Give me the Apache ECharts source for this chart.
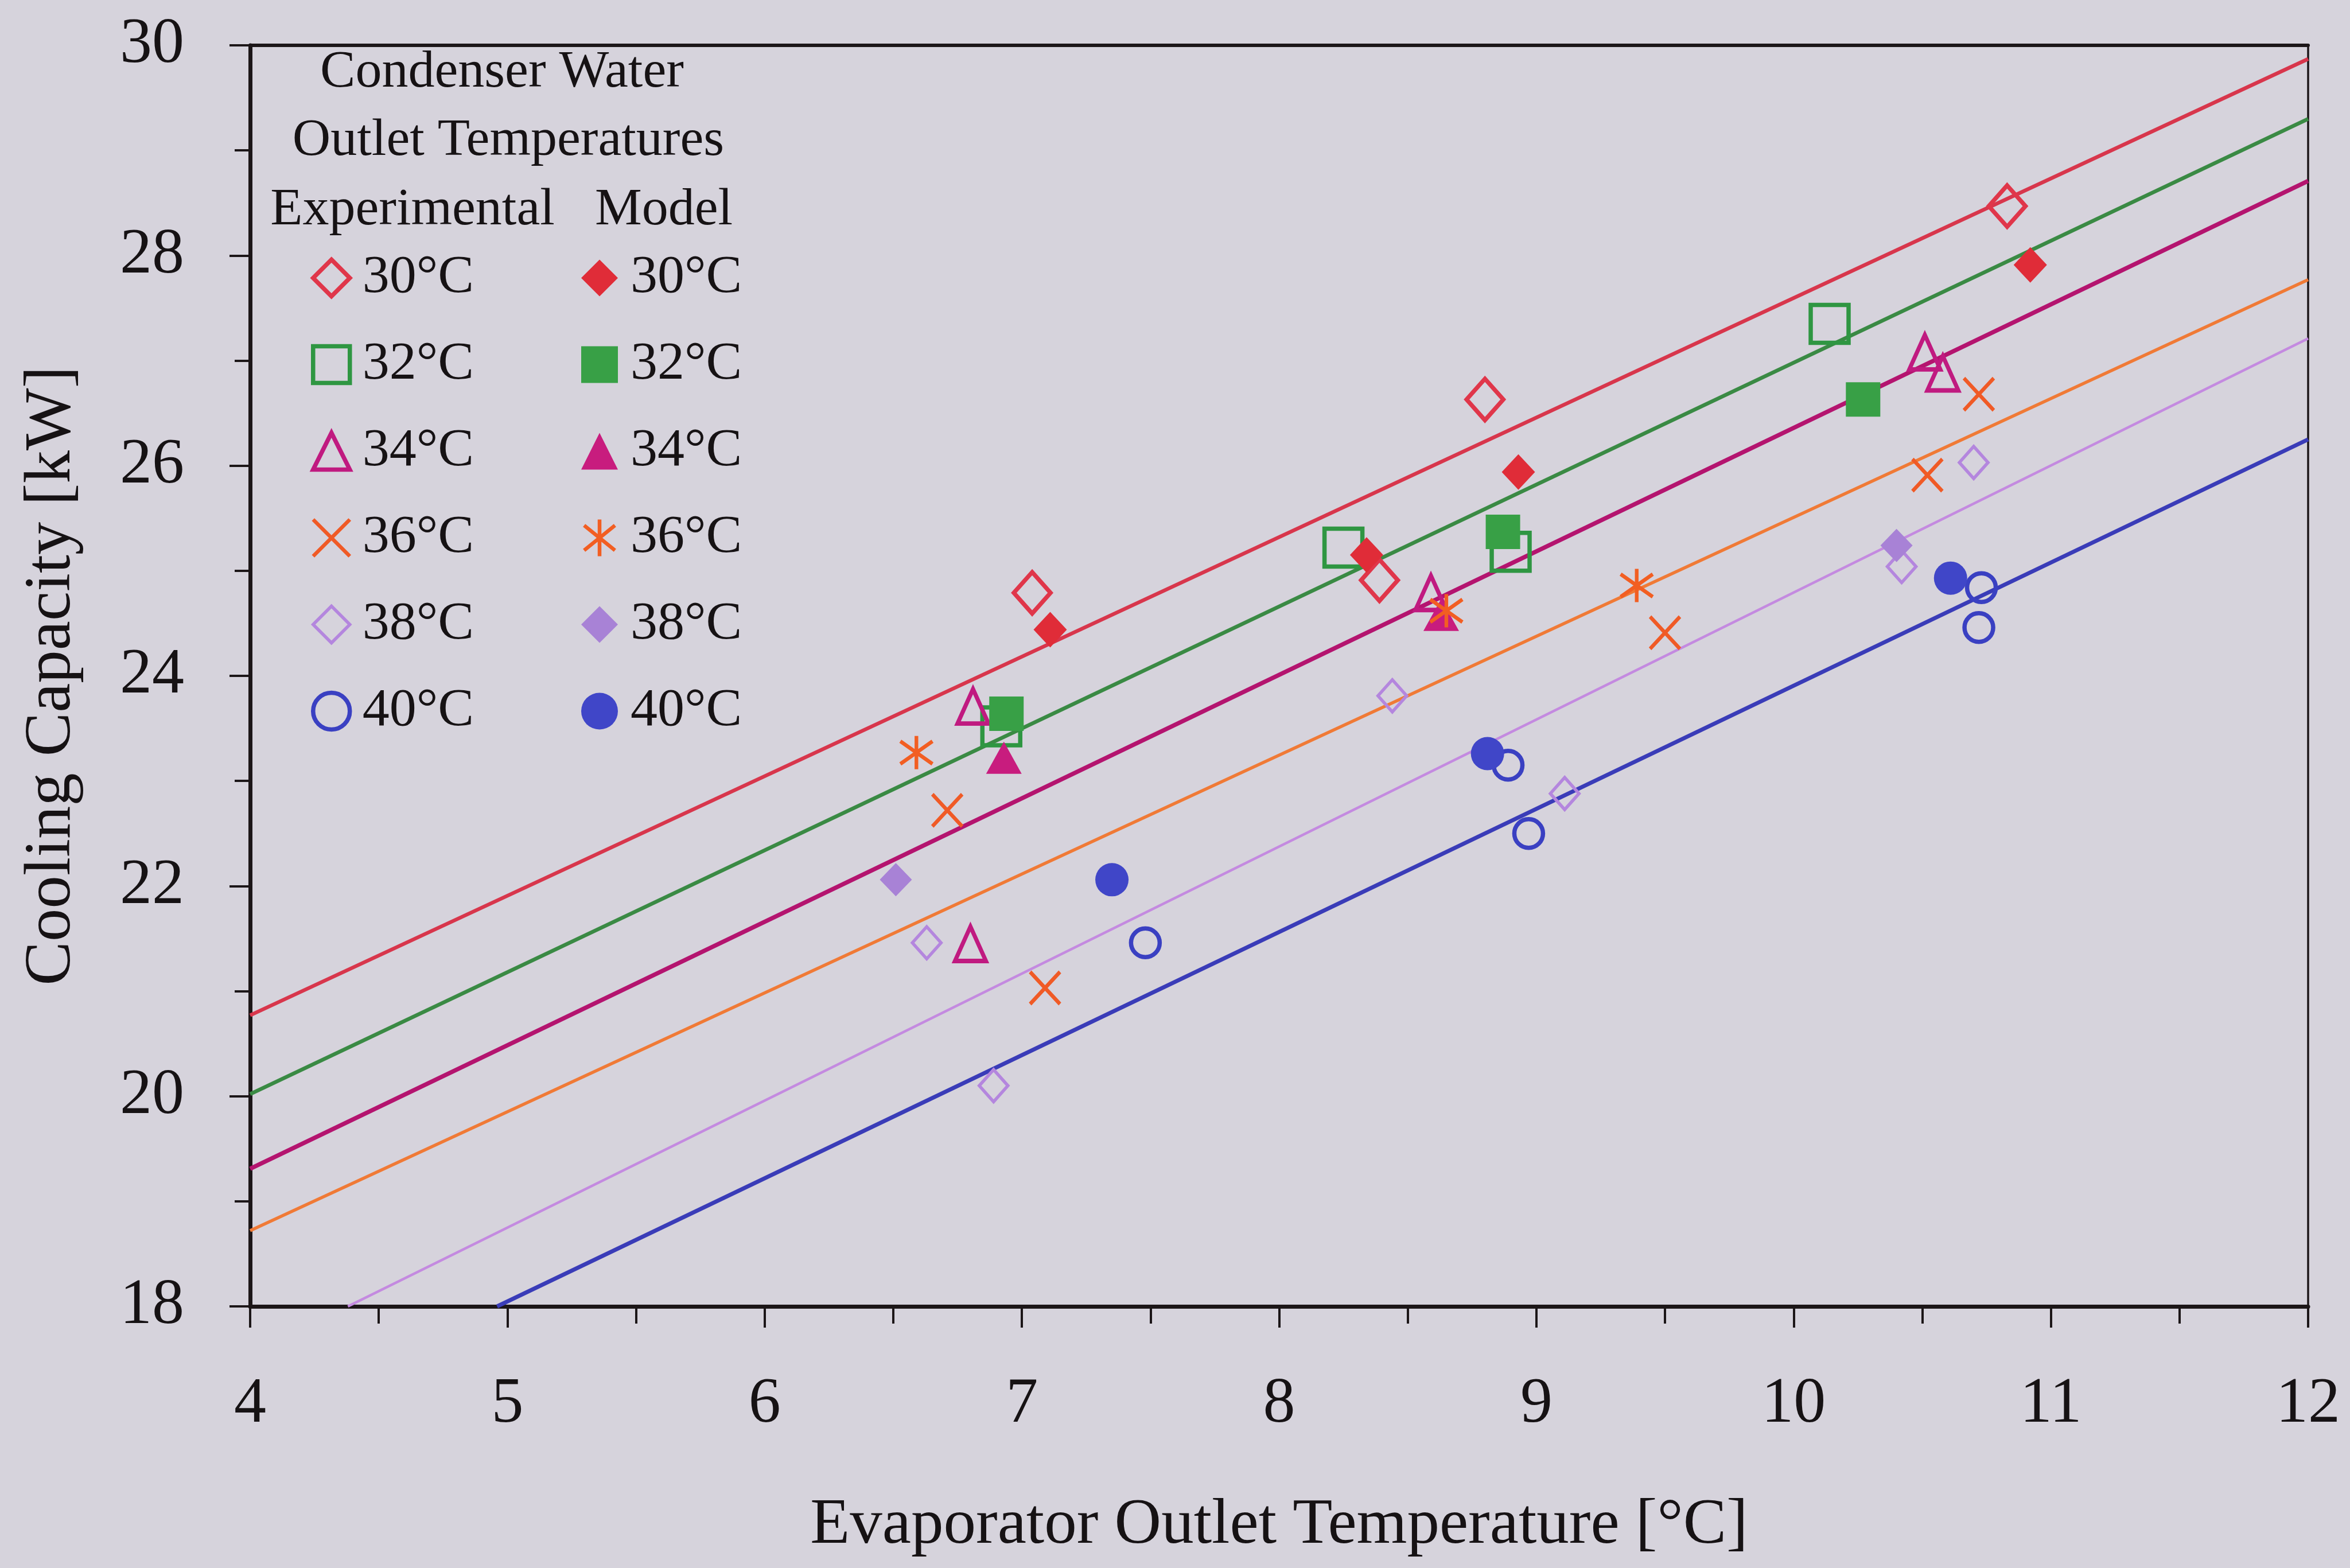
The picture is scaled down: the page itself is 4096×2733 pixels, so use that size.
<!DOCTYPE html>
<html>
<head>
<meta charset="utf-8">
<title>Cooling Capacity vs Evaporator Outlet Temperature</title>
<script src="https://cdn.jsdelivr.net/npm/echarts@6.0.0/dist/echarts.min.js"></script>
<style>
  html, body { margin: 0; padding: 0; background: #d6d3dc; }
  #chart { width: 4096px; height: 2733px; }
</style>
</head>
<body>
<div id="chart"></div>
<script>
// Condenser water outlet temperatures (one series per temperature)
const temps = ['30°C', '32°C', '34°C', '36°C', '38°C', '40°C'];

// Experimental measurements [evaporator outlet °C, cooling capacity kW]
const exp30 = [[7.04, 24.79], [8.39, 24.91], [8.80, 26.63], [10.83, 28.47]];
const exp32 = [[6.92, 23.52], [8.25, 25.22], [8.90, 25.18], [10.14, 27.35]];
const exp34 = [[6.81, 23.71], [6.80, 21.45], [8.59, 24.79], [10.51, 27.08], [10.58, 26.88]];
const exp36 = [[6.71, 22.72], [7.09, 21.03], [9.50, 24.41], [10.52, 25.91], [10.72, 26.68]];
const exp38 = [[6.63, 21.46], [6.89, 20.10], [8.44, 23.81], [9.11, 22.88], [10.42, 25.04], [10.70, 26.03]];
const exp40 = [[7.48, 21.46], [8.89, 23.15], [8.97, 22.50], [10.73, 24.84], [10.72, 24.46]];

// Model predictions
const mod30 = [[7.11, 24.44], [8.34, 25.15], [8.93, 25.94], [10.92, 27.91]];
const mod32 = [[6.94, 23.64], [8.87, 25.37], [10.27, 26.63]];
const mod34 = [[6.93, 23.22], [8.63, 24.58]];
const mod36 = [[6.59, 23.27], [8.65, 24.62], [9.39, 24.86]];
const mod38 = [[6.51, 22.06], [10.40, 25.24]];
const mod40 = [[7.35, 22.06], [8.81, 23.26], [10.61, 24.93]];

// Linear fits, given by their end points
const fit30 = [[4, 20.77], [12, 29.87]];
const fit32 = [[4, 20.02], [12, 29.30]];
const fit34 = [[4, 19.31], [12, 28.71]];
const fit36 = [[4, 18.72], [12, 27.77]];
const fit38 = [[4.38, 18], [12, 27.21]];
const fit40 = [[4.96, 18], [12, 26.25]];

const expData = [exp30, exp32, exp34, exp36, exp38, exp40];
const modData = [mod30, mod32, mod34, mod36, mod38, mod40];
const fitData = [fit30, fit32, fit34, fit36, fit38, fit40];

// ---- styling ----
const FONT = '"Liberation Serif", "DejaVu Serif", serif';
const INK = '#161214';
const AXIS = '#1c1618';
const X_PATH = 'path://M0,0L10,10M10,0L0,10';
const STAR_PATH = 'path://M5,0L5,10M0.8,1.6L9.2,8.4M9.2,1.6L0.8,8.4';

const lineStyles = [
  { color: '#d8364c', width: 6.5 },
  { color: '#3a8a44', width: 6.5 },
  { color: '#b4146f', width: 7.5 },
  { color: '#f07a36', width: 5.5 },
  { color: '#c48ae0', width: 4.5 },
  { color: '#3a3cb8', width: 7 }
];
const expStyles = [
  { symbol: 'diamond', size: [64, 72], color: '#e0364a', border: 7.5 },
  { symbol: 'rect', size: [66, 66], color: '#2f9642', border: 7.5 },
  { symbol: 'triangle', size: [54, 60], color: '#c01a80', border: 7.5 },
  { symbol: X_PATH, size: [52, 56], color: '#f05a26', border: 6.5 },
  { symbol: 'diamond', size: [50, 56], color: '#b486de', border: 5.5 },
  { symbol: 'circle', size: [50, 50], color: '#3a40c2', border: 7.5 }
];
const modStyles = [
  { symbol: 'diamond', size: [58, 62], color: '#e02c38' },
  { symbol: 'rect', size: [60, 60], color: '#38a046' },
  { symbol: 'triangle', size: [62, 56], color: '#c81c7e' },
  { symbol: STAR_PATH, size: [56, 58], color: '#f25e22', stroke: true },
  { symbol: 'diamond', size: [56, 58], color: '#a882d6' },
  { symbol: 'circle', size: [58, 58], color: '#4046c8' }
];

const expName = t => 'Experimental ' + t;
const modName = t => 'Model ' + t;

const series = [];
fitData.forEach((d, i) => {
  series.push({
    type: 'line', name: 'Fit ' + temps[i], data: d,
    symbol: 'none', showSymbol: false, silent: true, clip: true, z: 1,
    lineStyle: { color: lineStyles[i].color, width: lineStyles[i].width }
  });
});
expData.forEach((d, i) => {
  const s = expStyles[i];
  series.push({
    type: 'scatter', name: expName(temps[i]), data: d, z: 3,
    symbol: s.symbol, symbolSize: s.size,
    itemStyle: { color: 'transparent', borderColor: s.color, borderWidth: s.border, opacity: 1 }
  });
});
modData.forEach((d, i) => {
  const s = modStyles[i];
  series.push({
    type: 'scatter', name: modName(temps[i]), data: d, z: 4,
    symbol: s.symbol, symbolSize: s.size,
    itemStyle: s.stroke
      ? { color: 'transparent', borderColor: s.color, borderWidth: 6.5, opacity: 1 }
      : { color: s.color, borderColor: s.color, borderWidth: 0, opacity: 1 }
  });
});

const legendText = { fontFamily: FONT, fontSize: 94, lineHeight: 95, color: INK, padding: [0, 0, 0, 17] };
const legendBase = {
  orient: 'vertical', top: 437, padding: 0,
  itemWidth: 64, itemHeight: 64, itemGap: 56,
  selectedMode: false, textStyle: legendText,
  itemStyle: { borderWidth: 'inherit' }
};

const headerStyle = (text, x, y) => ({
  type: 'text', x: x, y: y, silent: true,
  style: { text: text, fontFamily: FONT, fontSize: 92, fill: INK, align: 'center', verticalAlign: 'middle' }
});

const option = {
  backgroundColor: '#d6d3dc',
  animation: false,
  grid: { left: 436, right: 73, top: 79, bottom: 456, containLabel: false, outerBoundsMode: 'none' },
  xAxis: [{
    type: 'value', min: 4, max: 12, interval: 1,
    name: 'Evaporator Outlet Temperature [°C]', nameLocation: 'middle', nameGap: 326, nameMoveOverlap: false,
    nameTextStyle: { fontFamily: FONT, fontSize: 113, color: INK },
    axisLine: { show: true, onZero: false, lineStyle: { color: AXIS, width: 7 } },
    axisTick: { show: true, inside: false, length: 37, lineStyle: { color: AXIS, width: 4 } },
    minorTick: { show: true, splitNumber: 2, length: 30, lineStyle: { color: AXIS, width: 4 } },
    axisLabel: { margin: 116, fontFamily: FONT, fontSize: 112, color: INK },
    splitLine: { show: false }, minorSplitLine: { show: false }
  }, {
    type: 'value', position: 'top', min: 4, max: 12,
    axisLine: { show: true, onZero: false, lineStyle: { color: AXIS, width: 6 } },
    axisTick: { show: false }, axisLabel: { show: false }, splitLine: { show: false }
  }],
  yAxis: [{
    type: 'value', min: 18, max: 30, interval: 2,
    name: 'Cooling Capacity [kW]', nameLocation: 'middle', nameGap: 288, nameMoveOverlap: false,
    nameTextStyle: { fontFamily: FONT, fontSize: 115, color: INK },
    axisLine: { show: true, onZero: false, lineStyle: { color: AXIS, width: 7 } },
    axisTick: { show: true, inside: false, length: 36, lineStyle: { color: AXIS, width: 4 } },
    minorTick: { show: true, splitNumber: 2, length: 27, lineStyle: { color: AXIS, width: 4 } },
    axisLabel: { margin: 115, fontFamily: FONT, fontSize: 112, color: INK },
    splitLine: { show: false }, minorSplitLine: { show: false }
  }, {
    type: 'value', position: 'right', min: 18, max: 30,
    axisLine: { show: true, onZero: false, lineStyle: { color: AXIS, width: 3.5 } },
    axisTick: { show: false }, axisLabel: { show: false }, splitLine: { show: false }
  }],
  legend: [
    Object.assign({}, legendBase, {
      left: 542, data: temps.map(expName),
      formatter: n => n.replace('Experimental ', '')
    }),
    Object.assign({}, legendBase, {
      left: 1013, data: temps.map(modName),
      formatter: n => n.replace('Model ', '')
    })
  ],
  graphic: [
    headerStyle('Condenser Water', 875, 127),
    headerStyle('Outlet Temperatures', 886, 246),
    headerStyle('Experimental', 719, 367),
    headerStyle('Model', 1157, 367)
  ],
  series: series
};

const chart = echarts.init(document.getElementById('chart'), null, { renderer: 'canvas' });
chart.setOption(option);
</script>
</body>
</html>
